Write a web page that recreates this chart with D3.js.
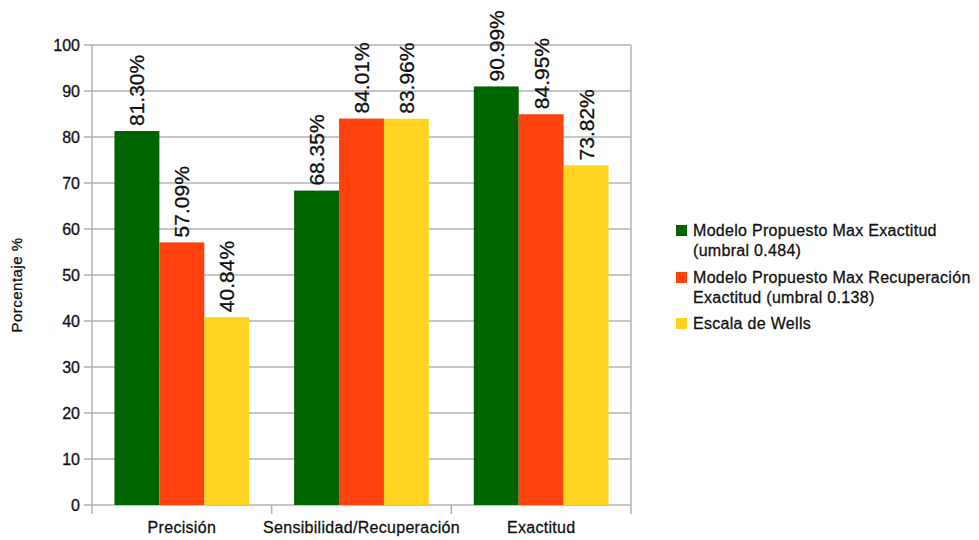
<!DOCTYPE html>
<html>
<head>
<meta charset="utf-8">
<script src="https://cdn.jsdelivr.net/npm/d3@7"></script>
<style>
  html, body { margin: 0; padding: 0; background: #fff; }
  svg { display: block; font-family: "Liberation Sans", Arial, sans-serif; }
  svg text { stroke: #111; stroke-width: 0.3px; paint-order: stroke; }
</style>
</head>
<body>
<div id="chart"></div>
<script>
// Categories and series values (percent)
const categories = ["Precisión", "Sensibilidad/Recuperación", "Exactitud"];
const seriesNames = [
  ["Modelo Propuesto Max Exactitud", "(umbral 0.484)"],
  ["Modelo Propuesto Max Recuperación", "Exactitud (umbral 0.138)"],
  ["Escala de Wells"]
];
const maxExactitud = [81.30, 68.35, 90.99];
const maxRecuperacion = [57.09, 84.01, 84.95];
const escalaWells = [40.84, 83.96, 73.82];
const yTicks = [0, 10, 20, 30, 40, 50, 60, 70, 80, 90, 100];
const yTitle = "Porcentaje %";

const colors = ["#006400", "#ff420e", "#ffd320"];
const seriesValues = [maxExactitud, maxRecuperacion, escalaWells];

const W = 979, H = 540;
const plot = { left: 92, right: 631, top: 45, bottom: 505 };

const svg = d3.select("#chart").append("svg")
  .attr("width", W).attr("height", H);

const x0 = d3.scaleBand()
  .domain(categories)
  .range([plot.left, plot.right])
  .paddingInner(0.25)
  .paddingOuter(0.125);

const x1 = d3.scaleBand()
  .domain(d3.range(seriesValues.length))
  .range([0, x0.bandwidth()]);

const y = d3.scaleLinear().domain([0, 100]).range([plot.bottom, plot.top]);

const grid = "#b3b3b3";

// Horizontal gridlines
svg.append("g")
  .selectAll("line")
  .data(yTicks)
  .join("line")
  .attr("x1", plot.left - 8).attr("x2", plot.right)
  .attr("y1", d => y(d)).attr("y2", d => y(d))
  .attr("stroke", grid).attr("stroke-width", 1.5);

// Right border
svg.append("line")
  .attr("x1", plot.right).attr("x2", plot.right)
  .attr("y1", plot.top).attr("y2", plot.bottom + 9)
  .attr("stroke", grid).attr("stroke-width", 1.5);

// Y axis
const yAxis = d3.axisLeft(y).tickValues(yTicks).tickSize(0).tickPadding(12);
const gy = svg.append("g").attr("transform", `translate(${plot.left},0)`).call(yAxis);
gy.select(".domain").remove();
gy.selectAll("text")
  .attr("font-size", 16)
  .attr("font-family", "Liberation Sans, Arial, sans-serif")
  .attr("fill", "#111");
svg.append("line")
  .attr("x1", plot.left).attr("x2", plot.left)
  .attr("y1", plot.top).attr("y2", plot.bottom + 9)
  .attr("stroke", grid).attr("stroke-width", 1.5);

// X axis (category separators below the baseline)
const sepX = categories.map(c => x0(c) - x0.step() * x0.paddingInner() / 2);
svg.append("g")
  .selectAll("line")
  .data(sepX.slice(1))
  .join("line")
  .attr("x1", d => d).attr("x2", d => d)
  .attr("y1", plot.bottom).attr("y2", plot.bottom + 9)
  .attr("stroke", grid).attr("stroke-width", 1.5);

const xAxis = d3.axisBottom(x0).tickSize(0).tickPadding(17);
const gx = svg.append("g").attr("transform", `translate(0,${plot.bottom})`).call(xAxis);
gx.select(".domain").remove();
gx.selectAll("text")
  .attr("font-size", 16)
  .attr("letter-spacing", 0.3)
  .attr("font-family", "Liberation Sans, Arial, sans-serif")
  .attr("fill", "#111");

// Bars
const groups = svg.append("g")
  .selectAll("g")
  .data(categories)
  .join("g")
  .attr("transform", c => `translate(${x0(c)},0)`);

groups.selectAll("rect")
  .data((c, i) => seriesValues.map((vals, s) => ({ s, v: vals[i] })))
  .join("rect")
  .attr("x", d => x1(d.s))
  .attr("width", x1.bandwidth())
  .attr("y", d => y(d.v))
  .attr("height", d => y(0) - y(d.v))
  .attr("fill", d => colors[d.s]);

// Value labels, rotated above each bar
groups.selectAll("text")
  .data((c, i) => seriesValues.map((vals, s) => ({ s, v: vals[i] })))
  .join("text")
  .attr("transform", d => `translate(${x1(d.s) + x1.bandwidth() / 2},${y(d.v) - 5}) rotate(-90)`)
  .attr("text-anchor", "start")
  .attr("dy", "0.36em")
  .attr("font-size", 21)
  .attr("fill", "#111")
  .text(d => d.v.toFixed(2) + "%");

// Y axis title
svg.append("text")
  .attr("transform", `translate(22,${(plot.top + plot.bottom) / 2 + 10}) rotate(-90)`)
  .attr("text-anchor", "middle")
  .attr("font-size", 15)
  .attr("letter-spacing", 0.5)
  .attr("fill", "#111")
  .text(yTitle);

// Legend
const legend = svg.append("g").attr("transform", "translate(676,0)");
const itemTop = [236, 283, 329];
seriesNames.forEach((lines, i) => {
  const g = legend.append("g").attr("transform", `translate(0,${itemTop[i]})`);
  g.append("rect")
    .attr("x", 0).attr("y", -11)
    .attr("width", 11).attr("height", 11)
    .attr("fill", colors[i]);
  lines.forEach((t, j) => {
    g.append("text")
      .attr("x", 17).attr("y", j * 20)
      .attr("font-size", 16)
      .attr("letter-spacing", 0.3)
      .attr("fill", "#111")
      .text(t);
  });
});
</script>
</body>
</html>
